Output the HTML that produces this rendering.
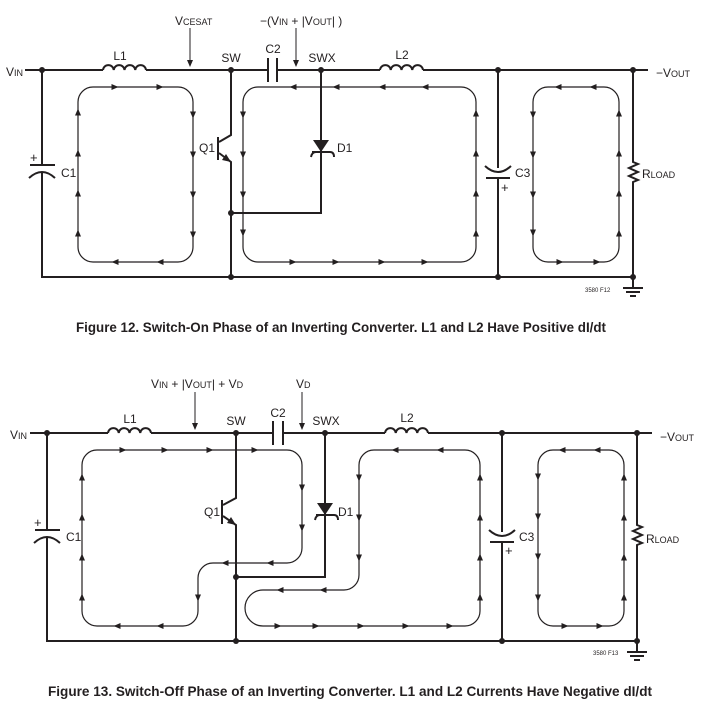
<!DOCTYPE html>
<html><head><meta charset="utf-8"><style>
html,body{margin:0;padding:0;background:#fff;}
svg{display:block;}
text{font-family:"Liberation Sans",sans-serif;fill:#231f20;}
</style></head><body>
<svg width="707" height="713" viewBox="0 0 707 713" xmlns="http://www.w3.org/2000/svg">
<defs>
<path id="a" d="M-3.5,-3 L3.5,0 L-3.5,3Z" fill="#231f20"/>
</defs>
<g stroke="#231f20" fill="none">
<!-- ================= FIGURE 12 ================= -->
<g stroke-width="2">
<path d="M25,70 H103 M146,70 H268 M277,70 H380 M423,70 H648"/>
<path d="M103,70 a5.4,5.4 0 0 1 10.75,0 a5.4,5.4 0 0 1 10.75,0 a5.4,5.4 0 0 1 10.75,0 a5.4,5.4 0 0 1 10.75,0"/>
<path d="M380,70 a5.4,5.4 0 0 1 10.75,0 a5.4,5.4 0 0 1 10.75,0 a5.4,5.4 0 0 1 10.75,0 a5.4,5.4 0 0 1 10.75,0"/>
<path d="M268,58 V82 M277,58 V82"/>
<path d="M42,70 V165 M42,172 V277 H633"/>
<path d="M30,165 H55 M29,178 Q42,166 55,178"/>
<path d="M231,70 V135 L219,142 M218,137 V160 M219,153 L231,162 V277"/>
<path d="M321,70 V213 H231"/>
<path d="M312,152 H330 M311,157 q1,-5 5,-5 M330,152 q4,0 4,5"/>
<path d="M498,70 V168 M498,178 V277"/>
<path d="M486,178 H510 M485,166 Q498,178 511,166"/>
<path d="M633,70 V162 l5,2 l-9,4 l9,4 l-9,4 l9,4 l-5,2 V277 V288"/>
<path d="M623,288 H643 M626,292 H640 M630,296 H636"/>
</g>
<path d="M190,28 V66 M296,28 V66" stroke-width="1"/>
<g stroke-width="1.2">
<rect x="78" y="87" width="115" height="175" rx="15"/>
<rect x="243" y="87" width="233" height="175" rx="15"/>
<rect x="533" y="87" width="86" height="175" rx="15"/>
</g>
<!-- ================= FIGURE 13 ================= -->
<g stroke-width="2">
<path d="M30,433 H108 M151,433 H273 M283,433 H385 M428,433 H652"/>
<path d="M108,433 a5.4,5.4 0 0 1 10.75,0 a5.4,5.4 0 0 1 10.75,0 a5.4,5.4 0 0 1 10.75,0 a5.4,5.4 0 0 1 10.75,0"/>
<path d="M385,433 a5.4,5.4 0 0 1 10.75,0 a5.4,5.4 0 0 1 10.75,0 a5.4,5.4 0 0 1 10.75,0 a5.4,5.4 0 0 1 10.75,0"/>
<path d="M273,421 V445 M283,421 V445"/>
<path d="M47,433 V530 M47,537 V641 H637"/>
<path d="M35,530 H60 M34,543 Q47,531 60,543"/>
<path d="M236,433 V498 L223,505 M222,500 V524 M223,516 L236,525 V641"/>
<path d="M325,433 V577 H236"/>
<path d="M316,515 H334 M315,520 q1,-5 5,-5 M334,515 q4,0 4,5"/>
<path d="M502,433 V532 M502,542 V641"/>
<path d="M490,542 H514 M489,530 Q502,542 515,530"/>
<path d="M637,433 V525 l5,2 l-9,4 l9,4 l-9,4 l9,4 l-5,2 V641 V652"/>
<path d="M627,652 H647 M630,656 H644 M634,660 H640"/>
</g>
<path d="M195,392 V429 M302,392 V429" stroke-width="1"/>
<g stroke-width="1.2">
<path d="M97,450 H287 A15,15 0 0 1 302,465 V548 A15,15 0 0 1 287,563 H213 A15,15 0 0 0 198,578 V611 A15,15 0 0 1 183,626 H97 A15,15 0 0 1 82,611 V465 A15,15 0 0 1 97,450 Z"/>
<path d="M374,450 H465 A15,15 0 0 1 480,465 V611 A15,15 0 0 1 465,626 H263 A18,18 0 0 1 263,590 H344 A15,15 0 0 0 359,575 V465 A15,15 0 0 1 374,450 Z"/>
<rect x="538" y="450" width="86" height="176" rx="15"/>
</g>
</g>
<!-- dots -->
<g fill="#231f20">
<circle cx="42" cy="70" r="3"/><circle cx="231" cy="70" r="3"/><circle cx="321" cy="70" r="3"/><circle cx="498" cy="70" r="3"/><circle cx="633" cy="70" r="3"/>
<circle cx="231" cy="277" r="3"/><circle cx="498" cy="277" r="3"/><circle cx="633" cy="277" r="3"/><circle cx="231" cy="213" r="3"/>
<polygon points="313,140 329,140 321,152"/>
<polygon points="231,162 222,160 226,154"/>
<circle cx="47" cy="433" r="3"/><circle cx="236" cy="433" r="3"/><circle cx="325" cy="433" r="3"/><circle cx="502" cy="433" r="3"/><circle cx="637" cy="433" r="3"/>
<circle cx="236" cy="641" r="3"/><circle cx="502" cy="641" r="3"/><circle cx="637" cy="641" r="3"/><circle cx="236" cy="577" r="3"/>
<polygon points="317,503 333,503 325,515"/>
<polygon points="236,525 227,523 231,517"/>
<polygon points="190,67 187,60 193,60"/><polygon points="296,67 293,60 299,60"/>
<polygon points="195,430 192,423 198,423"/><polygon points="302,430 299,423 305,423"/>
</g>
<!-- arrows fig12 -->
<g>
<use href="#a" transform="translate(115,87)"/><use href="#a" transform="translate(160,87)"/>
<use href="#a" transform="translate(193,115) rotate(90)"/><use href="#a" transform="translate(193,155) rotate(90)"/><use href="#a" transform="translate(193,195) rotate(90)"/><use href="#a" transform="translate(193,235) rotate(90)"/>
<use href="#a" transform="translate(115,262) rotate(180)"/><use href="#a" transform="translate(160,262) rotate(180)"/>
<use href="#a" transform="translate(78,112) rotate(270)"/><use href="#a" transform="translate(78,153) rotate(270)"/><use href="#a" transform="translate(78,193) rotate(270)"/><use href="#a" transform="translate(78,233) rotate(270)"/>
<use href="#a" transform="translate(243,115) rotate(90)"/><use href="#a" transform="translate(243,155) rotate(90)"/><use href="#a" transform="translate(243,195) rotate(90)"/><use href="#a" transform="translate(243,233) rotate(90)"/>
<use href="#a" transform="translate(293,87) rotate(180)"/><use href="#a" transform="translate(336,87) rotate(180)"/><use href="#a" transform="translate(382,87) rotate(180)"/><use href="#a" transform="translate(425,87) rotate(180)"/>
<use href="#a" transform="translate(293,262)"/><use href="#a" transform="translate(336,262)"/><use href="#a" transform="translate(382,262)"/><use href="#a" transform="translate(425,262)"/>
<use href="#a" transform="translate(476,113) rotate(270)"/><use href="#a" transform="translate(476,153) rotate(270)"/><use href="#a" transform="translate(476,193) rotate(270)"/><use href="#a" transform="translate(476,233) rotate(270)"/>
<use href="#a" transform="translate(558,87) rotate(180)"/><use href="#a" transform="translate(593,87) rotate(180)"/>
<use href="#a" transform="translate(533,115) rotate(90)"/><use href="#a" transform="translate(533,155) rotate(90)"/><use href="#a" transform="translate(533,195) rotate(90)"/><use href="#a" transform="translate(533,233) rotate(90)"/>
<use href="#a" transform="translate(560,262)"/><use href="#a" transform="translate(597,262)"/>
<use href="#a" transform="translate(619,113) rotate(270)"/><use href="#a" transform="translate(619,153) rotate(270)"/><use href="#a" transform="translate(619,193) rotate(270)"/><use href="#a" transform="translate(619,233) rotate(270)"/>
</g>
<!-- arrows fig13 -->
<g>
<use href="#a" transform="translate(123,450)"/><use href="#a" transform="translate(165,450)"/><use href="#a" transform="translate(210,450)"/><use href="#a" transform="translate(255,450)"/>
<use href="#a" transform="translate(302,488) rotate(90)"/><use href="#a" transform="translate(302,528) rotate(90)"/>
<use href="#a" transform="translate(270,563) rotate(180)"/><use href="#a" transform="translate(225,563) rotate(180)"/>
<use href="#a" transform="translate(198,598) rotate(90)"/>
<use href="#a" transform="translate(117,626) rotate(180)"/><use href="#a" transform="translate(160,626) rotate(180)"/>
<use href="#a" transform="translate(82,597) rotate(270)"/><use href="#a" transform="translate(82,557) rotate(270)"/><use href="#a" transform="translate(82,517) rotate(270)"/><use href="#a" transform="translate(82,477) rotate(270)"/>
<use href="#a" transform="translate(395,450) rotate(180)"/><use href="#a" transform="translate(440,450) rotate(180)"/>
<use href="#a" transform="translate(359,478) rotate(90)"/><use href="#a" transform="translate(359,518) rotate(90)"/><use href="#a" transform="translate(359,558) rotate(90)"/>
<use href="#a" transform="translate(280,590) rotate(180)"/><use href="#a" transform="translate(323,590) rotate(180)"/>
<use href="#a" transform="translate(278,626)"/><use href="#a" transform="translate(316,626)"/><use href="#a" transform="translate(361,626)"/><use href="#a" transform="translate(406,626)"/><use href="#a" transform="translate(450,626)"/>
<use href="#a" transform="translate(480,477) rotate(270)"/><use href="#a" transform="translate(480,517) rotate(270)"/><use href="#a" transform="translate(480,557) rotate(270)"/><use href="#a" transform="translate(480,597) rotate(270)"/>
<use href="#a" transform="translate(562,450) rotate(180)"/><use href="#a" transform="translate(597,450) rotate(180)"/>
<use href="#a" transform="translate(538,477) rotate(90)"/><use href="#a" transform="translate(538,517) rotate(90)"/><use href="#a" transform="translate(538,557) rotate(90)"/><use href="#a" transform="translate(538,598) rotate(90)"/>
<use href="#a" transform="translate(565,626)"/><use href="#a" transform="translate(600,626)"/>
<use href="#a" transform="translate(624,477) rotate(270)"/><use href="#a" transform="translate(624,517) rotate(270)"/><use href="#a" transform="translate(624,557) rotate(270)"/><use href="#a" transform="translate(624,597) rotate(270)"/>
</g>
<!-- labels fig12 -->
<g font-size="12">
<text x="6" y="76">V<tspan font-size="9">IN</tspan></text>
<text x="120" y="60" text-anchor="middle">L1</text>
<text x="175" y="25">V<tspan font-size="9">CESAT</tspan></text>
<text x="231" y="62" text-anchor="middle">SW</text>
<text x="273" y="53" text-anchor="middle">C2</text>
<text x="260" y="25">−(V<tspan font-size="9">IN</tspan> + |V<tspan font-size="9">OUT</tspan>| )</text>
<text x="322" y="62" text-anchor="middle">SWX</text>
<text x="402" y="59" text-anchor="middle">L2</text>
<text x="656" y="77">−V<tspan font-size="9">OUT</tspan></text>
<text x="30" y="162" font-size="13">+</text>
<text x="61" y="177">C1</text>
<text x="199" y="152">Q1</text>
<text x="337" y="152">D1</text>
<text x="515" y="177">C3</text>
<text x="501" y="192" font-size="13">+</text>
<text x="642" y="178">R<tspan font-size="9">LOAD</tspan></text>
<text x="585" y="292" font-size="6">3580 F12</text>
</g>
<text x="76" y="332" font-size="14" font-weight="bold" textLength="530" lengthAdjust="spacingAndGlyphs">Figure 12. Switch-On Phase of an Inverting Converter.  L1 and L2 Have Positive dI/dt</text>
<!-- labels fig13 -->
<g font-size="12">
<text x="10" y="439">V<tspan font-size="9">IN</tspan></text>
<text x="130" y="423" text-anchor="middle">L1</text>
<text x="151" y="388">V<tspan font-size="9">IN</tspan> + |V<tspan font-size="9">OUT</tspan>| + V<tspan font-size="9">D</tspan></text>
<text x="236" y="425" text-anchor="middle">SW</text>
<text x="278" y="417" text-anchor="middle">C2</text>
<text x="296" y="388">V<tspan font-size="9">D</tspan></text>
<text x="326" y="425" text-anchor="middle">SWX</text>
<text x="407" y="422" text-anchor="middle">L2</text>
<text x="660" y="441">−V<tspan font-size="9">OUT</tspan></text>
<text x="34" y="527" font-size="13">+</text>
<text x="66" y="541">C1</text>
<text x="204" y="516">Q1</text>
<text x="338" y="516">D1</text>
<text x="519" y="541">C3</text>
<text x="505" y="555" font-size="13">+</text>
<text x="646" y="543">R<tspan font-size="9">LOAD</tspan></text>
<text x="593" y="655" font-size="6">3580 F13</text>
</g>
<text x="48" y="696" font-size="14" font-weight="bold" textLength="604" lengthAdjust="spacingAndGlyphs">Figure 13. Switch-Off Phase of an Inverting Converter. L1 and L2 Currents Have Negative dI/dt</text>
</svg>
</body></html>
